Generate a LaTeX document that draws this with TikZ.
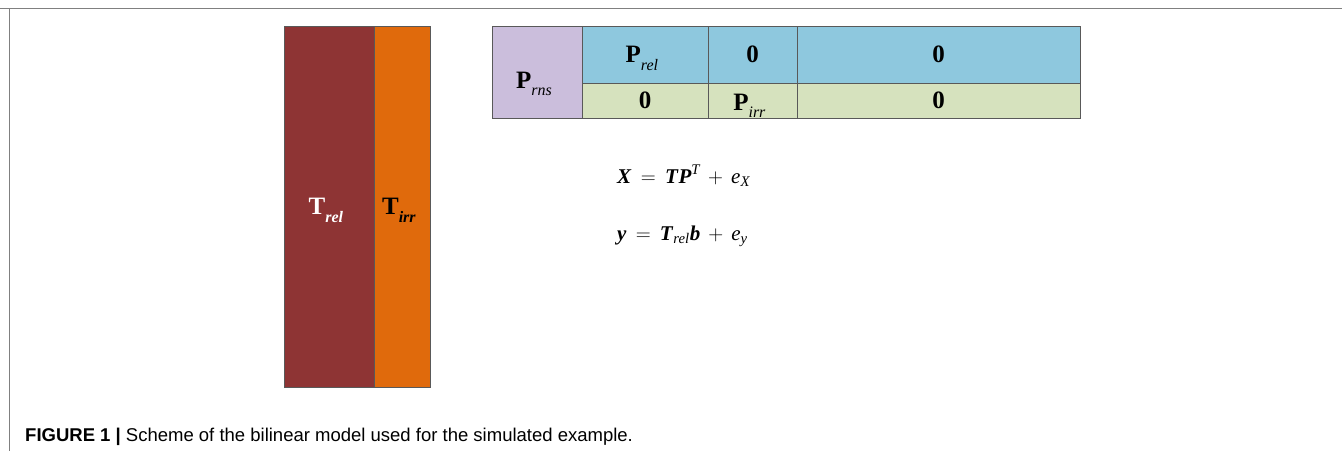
\documentclass[tikz,border=0pt]{standalone}
\usepackage{amsmath,amssymb,bm}
\usepackage{fontspec}
\setmainfont{Liberation Serif}
\newfontfamily\captionfont{Liberation Sans}
\usepackage{xcolor}
\usepackage{tikz}
\usetikzlibrary{positioning}

\definecolor{trelred}{RGB}{142,52,52}
\definecolor{tirrorange}{RGB}{224,106,12}
\definecolor{prnspurple}{RGB}{203,190,220}
\definecolor{relblue}{RGB}{142,200,222}
\definecolor{irrgreen}{RGB}{214,226,190}
\definecolor{framegray}{RGB}{128,128,128}

% letter with a lowered italic subscript
\newcommand{\sublbl}[2]{#1\raisebox{-0.3em}{\fontsize{16}{16}\selectfont\itshape #2}}
% bold italic symbol for the equations
\newcommand{\bsym}[1]{\textbf{\textit{#1}}}
% wider gaps round = and +
\newcommand{\eqgaps}{\thickmuskip=8mu \medmuskip=7mu\relax}

\begin{document}
\begin{tikzpicture}[
    x=1pt, y=-1pt,
    block/.style={
        draw=black!65,
        line width=0.6pt,
        inner sep=0pt,
        outer sep=0pt,
        text depth=0pt,
        align=center,
        font=\fontsize{25}{25}\selectfont\bfseries
    },
    column/.style={
        block,
        minimum height=361pt
    },
    toprow/.style={
        block,
        fill=relblue,
        minimum height=57pt
    },
    bottomrow/.style={
        block,
        fill=irrgreen,
        minimum height=35pt
    },
    equation/.style={
        anchor=base west,
        inner sep=0pt,
        font=\fontsize{21}{21}\selectfont
    }
]
\useasboundingbox (0,0) rectangle (1342,451);

% =========================================================
% FRAME
% =========================================================

\draw[framegray, line width=1pt] (0,8.5) -- (1342,8.5);
\draw[framegray, line width=1pt] (9.5,8.5) -- (9.5,451);

% =========================================================
% SCORES T
% =========================================================

\node[column, fill=trelred, text=white, minimum width=90pt,
    anchor=north west] (trel) at (284,26) {
\sublbl{T}{rel}
};

\node[column, fill=tirrorange, minimum width=56pt,
    right=0pt of trel] (tirr) {
\sublbl{T}{irr}
};

% =========================================================
% LOADINGS P
% =========================================================

\node[block, fill=prnspurple, minimum width=90pt, minimum height=92pt,
    text height=32pt, anchor=north west] (prns) at (492,26) {
\sublbl{P}{\mdseries rns}
};

\node[toprow, minimum width=126pt,
    right=0pt of prns.north east, anchor=north west] (prel) {
\sublbl{P}{\mdseries rel}
};

\node[toprow, minimum width=89pt, right=0pt of prel] (zerotopa) {0};

\node[toprow, minimum width=283pt, right=0pt of zerotopa] (zerotopb) {0};

\node[bottomrow, minimum width=126pt, below=0pt of prel] (zerobota) {0};

\node[bottomrow, minimum width=89pt, text height=19pt,
    right=0pt of zerobota] (pirr) {
\sublbl{P}{\mdseries irr}
};

\node[bottomrow, minimum width=283pt, right=0pt of pirr] (zerobotb) {0};

% =========================================================
% MODEL EQUATIONS
% =========================================================

\node[equation] (eqx) at (617,183) {
$\eqgaps \bsym{X} = \bsym{T}\bsym{P}^{\textit{T}} + \textit{e}_{\textit{X}}$
};

\node[equation] (eqy) at (617,240) {
$\eqgaps \bsym{y} = \bsym{T}_{\textit{rel}}\bsym{b} + \textit{e}_{\textit{y}}$
};

% =========================================================
% CAPTION
% =========================================================

\node[anchor=base west, inner sep=0pt,
    font=\captionfont\fontsize{18.5}{18.5}\selectfont] (caption) at (25,441) {
\textbf{FIGURE 1 |} Scheme of the bilinear model used for the simulated example.
};

\end{tikzpicture}
\end{document}
